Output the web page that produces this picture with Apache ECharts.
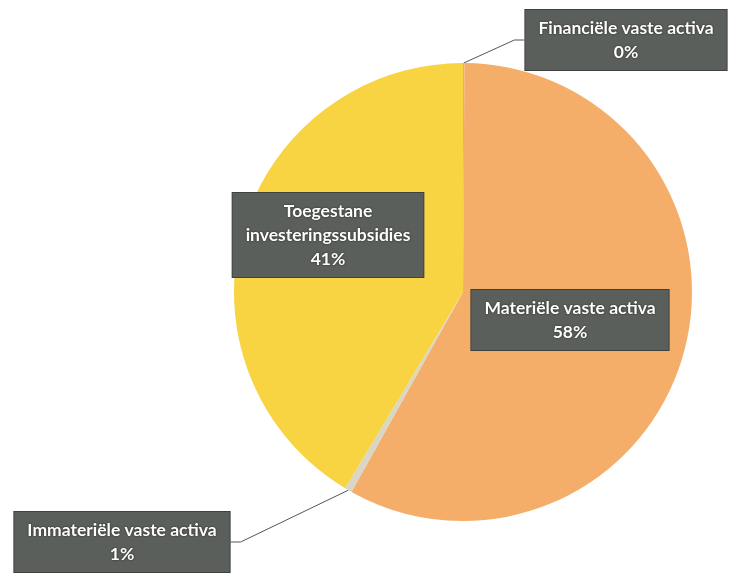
<!DOCTYPE html>
<html lang="nl">
<head>
    <meta http-equiv="content-type" content="text/html;charset=utf-8">
    <title>Vaste activa</title>
    <script src="https://cdn.jsdelivr.net/npm/echarts@6/dist/echarts.min.js"></script>
    <style>
        html, body { margin: 0; padding: 0; background: #fff; }
        #main { width: 731px; height: 574px; }
    </style>
</head>
<body>
    <div id="main"></div>
    <script>
        // gegevens
        var names = ['Financiële vaste activa', 'Materiële vaste activa', 'Immateriële vaste activa', 'Toegestane\ninvesteringssubsidies'];
        var values = [0.1, 58.0, 0.5, 41.4];
        var colors = ['#f2a866', '#f5ad6a', '#d9d6c6', '#f8d443'];
        // label centres (layout only)
        var labelPos = [[626, 40], [570, 320], [122, 542], [328, 235]];

        var myChart = echarts.init(document.getElementById('main'));

        var pieData = names.map(function (n, i) {
            return {
                name: n,
                value: values[i],
                itemStyle: { color: colors[i] },
                label: { position: (i === 0 || i === 2) ? 'outside' : 'inside' },
                labelLine: { show: i === 0 || i === 2 }
            };
        });

        var option = {
            backgroundColor: '#ffffff',
            animation: false,
            series: [{
                type: 'pie',
                center: [463, 292],
                radius: [0, 229],
                startAngle: 90,
                clockwise: true,
                avoidLabelOverlap: false,
                percentPrecision: 0,
                itemStyle: { borderColor: '#ffffff', borderWidth: 0 },
                label: {
                    show: true,
                    formatter: '{b}\n{d}%',
                    color: '#ffffff',
                    fontFamily: 'Lato',
                    fontWeight: 'bold',
                    fontSize: 17.5,
                    lineHeight: 24,
                    align: 'center',
                    backgroundColor: '#5b5f5b',
                    borderColor: '#3f423f',
                    borderWidth: 1,
                    padding: [7, 13, 5, 13],
                    textShadowColor: 'rgba(0,0,0,0.7)',
                    textShadowBlur: 2
                },
                labelLine: {
                    length: 10,
                    length2: 10,
                    lineStyle: { color: '#555555', width: 1 }
                },
                labelLayout: function (params) {
                    var p = labelPos[params.dataIndex];
                    return { x: p[0], y: p[1], align: 'center', verticalAlign: 'middle' };
                },
                data: pieData
            }]
        };

        myChart.setOption(option);
    </script>
</body>
</html>
